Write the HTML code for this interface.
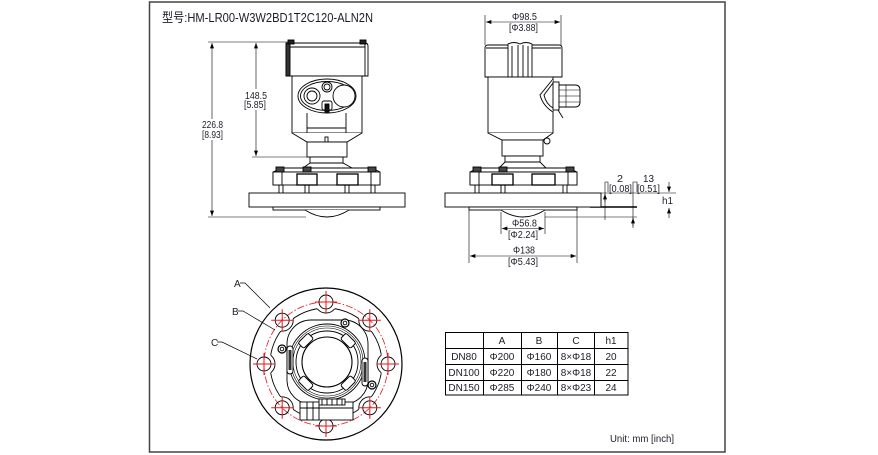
<!DOCTYPE html>
<html><head><meta charset="utf-8">
<style>
html,body{margin:0;padding:0;background:#fff;}
svg{display:block;}
text{font-family:"Liberation Sans","Noto Sans CJK SC",sans-serif;fill:#1c1c28;}
</style></head><body>
<svg width="878" height="455" viewBox="0 0 878 455" xmlns="http://www.w3.org/2000/svg">
<defs>
<marker id="ar" viewBox="0 0 8 6" refX="8" refY="3" markerWidth="6" markerHeight="4" orient="auto-start-reverse" markerUnits="userSpaceOnUse"><path d="M0,0 L8,3 L0,6 z" fill="#000"/></marker>
<mask id="scm">
<rect x="-100" y="-100" width="200" height="200" fill="#fff"/>
<circle cx="0" cy="-62" r="11" fill="#000"/><circle cx="43.8" cy="-43.8" r="11" fill="#000"/>
<circle cx="62" cy="0" r="11" fill="#000"/><circle cx="43.8" cy="43.8" r="11" fill="#000"/>
<circle cx="0" cy="62" r="11" fill="#000"/><circle cx="-43.8" cy="43.8" r="11" fill="#000"/>
<circle cx="-62" cy="0" r="11" fill="#000"/><circle cx="-43.8" cy="-43.8" r="11" fill="#000"/>
</mask>
<clipPath id="scc"><circle cx="0" cy="0" r="56"/></clipPath>
</defs>

<!-- frame -->
<rect x="149.5" y="2" width="575.5" height="450" fill="none" stroke="#444" stroke-width="1.5"/>

<!-- title -->
<text x="162" y="22" font-size="13" textLength="211" lengthAdjust="spacingAndGlyphs" fill="#333">型号:HM-LR00-W3W2BD1T2C120-ALN2N</text>

<!-- ================= FRONT VIEW ================= -->
<g stroke="#000" stroke-width="0.6" fill="none">
<line x1="208" y1="42" x2="290" y2="42"/>
<line x1="208" y1="217" x2="306" y2="217"/>
<line x1="252" y1="157" x2="307" y2="157"/>
<line x1="212" y1="43" x2="212" y2="216" marker-start="url(#ar)" marker-end="url(#ar)"/>
<line x1="256" y1="43" x2="256" y2="156" marker-start="url(#ar)" marker-end="url(#ar)"/>
</g>
<rect x="201" y="119" width="23" height="21" fill="#fff"/>
<rect x="244" y="89" width="24" height="21" fill="#fff"/>
<text x="202" y="128" font-size="10" textLength="21" lengthAdjust="spacingAndGlyphs">226.8</text>
<text x="202" y="138" font-size="10" textLength="21" lengthAdjust="spacingAndGlyphs">[8.93]</text>
<text x="245" y="99" font-size="10" textLength="22" lengthAdjust="spacingAndGlyphs">148.5</text>
<text x="244" y="108" font-size="10" textLength="22" lengthAdjust="spacingAndGlyphs">[5.85]</text>

<g fill="#fff" stroke="#000" stroke-width="0.9">
<path d="M286,76 V46 Q286,43 289,43 H365 Q368,43 368,46 V76 Z"/>
<rect x="286" y="43" width="4" height="33" fill="#333"/>
<line x1="290" y1="47" x2="365" y2="47"/>
<rect x="288" y="40" width="6" height="4" fill="#222"/>
<rect x="360" y="40" width="6" height="4" fill="#222"/>
<line x1="365" y1="43" x2="365" y2="76"/>
<rect x="292" y="76" width="70" height="57"/>
<path d="M292,133 L307,142 H347 L362,133"/>
<ellipse cx="327" cy="96" rx="29" ry="17"/>
<ellipse cx="327" cy="96" rx="26.5" ry="14.5"/>
<circle cx="312" cy="96" r="8"/><circle cx="312" cy="96" r="5"/>
<circle cx="327" cy="87" r="5"/><circle cx="327" cy="87" r="3"/>
<circle cx="344" cy="96" r="11"/>
<rect x="322" y="101" width="10" height="9" rx="2"/>
<rect x="325" y="104" width="4" height="8" fill="#111"/>
<path d="M307,113 V133 M346,113 V133" fill="none"/>
<line x1="307" y1="128" x2="346" y2="128"/>
<rect x="325" y="137" width="3" height="8"/>
<rect x="307" y="142" width="40" height="15"/>
<rect x="310" y="157" width="33" height="6"/>
<path d="M310,163 L303,168 H352 L343,163 Z"/>
<path d="M282,168 H372 L380,172 H273 Z"/>
<rect x="273" y="172" width="107" height="13"/>
<rect x="276" y="167" width="8" height="5" fill="#444"/>
<rect x="303" y="167" width="8" height="5" fill="#444"/>
<rect x="368" y="167" width="8" height="5" fill="#444"/>
<rect x="273" y="172" width="9" height="13"/>
<rect x="297" y="174" width="20" height="11" stroke-width="1.3"/>
<rect x="337" y="174" width="21" height="11" stroke-width="1.3"/>
<rect x="371" y="172" width="9" height="13"/>
<path d="M279,185 V193 M283,185 V193 M305,185 V193 M309,185 V193 M345,185 V193 M349,185 V193 M371,185 V193 M375,185 V193" fill="none"/>
<rect x="249" y="193" width="156" height="14"/>
<rect x="273" y="207" width="107" height="3"/>
<path d="M305,210 Q327,224 349,210" />
</g>

<!-- ================= SIDE VIEW ================= -->
<g stroke="#000" stroke-width="0.6" fill="none">
<line x1="485" y1="15" x2="485" y2="45"/>
<line x1="561" y1="15" x2="561" y2="45"/>
<line x1="486" y1="22" x2="560" y2="22" marker-start="url(#ar)" marker-end="url(#ar)"/>
<line x1="501" y1="212" x2="501" y2="234"/>
<line x1="545" y1="212" x2="545" y2="234"/>
<line x1="502" y1="228.5" x2="544" y2="228.5" marker-start="url(#ar)" marker-end="url(#ar)"/>
<line x1="469" y1="210" x2="469" y2="263"/>
<line x1="577" y1="210" x2="577" y2="263"/>
<line x1="470" y1="256" x2="576" y2="256" marker-start="url(#ar)" marker-end="url(#ar)"/>
<!-- right dims -->
<line x1="601" y1="193" x2="676" y2="193"/>
<line x1="545" y1="217" x2="637" y2="217"/>
<path d="M608,192 V182 H605 V220"/>
<path d="M637,192 V182 H633 V228"/>
<line x1="669" y1="182" x2="669" y2="192" marker-end="url(#ar)"/>
<line x1="669" y1="218" x2="669" y2="208" marker-end="url(#ar)"/>
<line x1="605" y1="202" x2="605" y2="194" marker-end="url(#ar)"/>
<line x1="633" y1="226" x2="633" y2="218" marker-end="url(#ar)"/>
</g>
<line x1="590" y1="207" x2="637" y2="207" stroke="#000" stroke-width="1.6"/>
<text x="512" y="20" font-size="10" textLength="25" lengthAdjust="spacingAndGlyphs">Φ98.5</text>
<text x="509" y="31" font-size="10" textLength="29" lengthAdjust="spacingAndGlyphs">[Φ3.88]</text>
<text x="512" y="226.5" font-size="10" textLength="25" lengthAdjust="spacingAndGlyphs">Φ56.8</text>
<text x="508" y="238" font-size="10" textLength="30" lengthAdjust="spacingAndGlyphs">[Φ2.24]</text>
<text x="513" y="253.5" font-size="10" textLength="22" lengthAdjust="spacingAndGlyphs">Φ138</text>
<text x="508" y="265" font-size="10" textLength="30" lengthAdjust="spacingAndGlyphs">[Φ5.43]</text>
<text x="617" y="182" font-size="10" textLength="6" lengthAdjust="spacingAndGlyphs">2</text>
<text x="609" y="192" font-size="10" textLength="23" lengthAdjust="spacingAndGlyphs">[0.08]</text>
<text x="643" y="182" font-size="10" textLength="11" lengthAdjust="spacingAndGlyphs">13</text>
<text x="637" y="192" font-size="10" textLength="23" lengthAdjust="spacingAndGlyphs">[0.51]</text>
<text x="662" y="204" font-size="10" textLength="11" lengthAdjust="spacingAndGlyphs">h1</text>

<g fill="#fff" stroke="#000" stroke-width="0.9">
<path d="M485,77 V48 Q485,45 488,45 H559 Q562,45 562,48 V77 Z"/>
<line x1="486" y1="48" x2="561" y2="48"/>
<path d="M508,77 V44 Q514,41 520,44 Q526,41 532,44 V77 Z"/>
<path d="M512,77 V46 M518,77 V45 M523,77 V45 M528,77 V46" fill="none"/>
<rect x="488" y="77" width="65" height="56"/>
<path d="M553,79 L540,95 Q543,106 553,112" />
<path d="M553,83 L544,95 Q546,104 553,108" fill="none"/>
<rect x="553" y="82" width="6" height="28"/>
<path d="M559,85 H575 Q580,85 580,90 V102 Q580,107 575,107 H559 Z"/>
<path d="M559,90 H580 M559,96 H580 M559,102 H580 M566,85 V107" fill="none" stroke-width="0.6"/>
<path d="M558,110 L563,118" fill="none"/>
<path d="M488,133 L502,140 H543 L553,133"/>
<circle cx="547" cy="141" r="3"/>
<rect x="502" y="140" width="41" height="16"/>
<rect x="505" y="156" width="35" height="6"/>
<path d="M505,162 L499,168 H546 L540,162 Z"/>
<path d="M478,168 H568 L577,172 H470 Z"/>
<rect x="470" y="172" width="107" height="13"/>
<rect x="473" y="167" width="8" height="5" fill="#444"/>
<rect x="499" y="167" width="8" height="5" fill="#444"/>
<rect x="566" y="167" width="8" height="5" fill="#444"/>
<rect x="470" y="172" width="9" height="13"/>
<rect x="492" y="174" width="21" height="11" stroke-width="1.3"/>
<rect x="532" y="174" width="23" height="11" stroke-width="1.3"/>
<rect x="568" y="172" width="9" height="13"/>
<path d="M475,185 V193 M479,185 V193 M501,185 V193 M505,185 V193 M563,185 V193 M567,185 V193" fill="none"/>
<rect x="445" y="193" width="156" height="14"/>
<rect x="469" y="207" width="108" height="3"/>
<path d="M501,210 Q523,224 545,210"/>
</g>

<!-- ================= BOTTOM VIEW ================= -->
<g transform="translate(326,364)">
<circle r="76" fill="none" stroke="#000" stroke-width="1.2"/>
<circle r="56" fill="none" stroke="#000" stroke-width="0.9" mask="url(#scm)"/>
<g clip-path="url(#scc)" fill="none" stroke="#000" stroke-width="0.9">
<circle cx="0" cy="-62" r="11"/><circle cx="43.8" cy="-43.8" r="11"/>
<circle cx="62" cy="0" r="11"/><circle cx="43.8" cy="43.8" r="11"/>
<circle cx="0" cy="62" r="11"/><circle cx="-43.8" cy="43.8" r="11"/>
<circle cx="-62" cy="0" r="11"/><circle cx="-43.8" cy="-43.8" r="11"/>
</g>
<circle r="62" fill="none" stroke="#e8141c" stroke-width="0.8" stroke-dasharray="7 2 1.5 2"/>
<g fill="none" stroke="#000" stroke-width="0.9">
<circle cx="0" cy="-62" r="7"/><circle cx="43.8" cy="-43.8" r="7"/>
<circle cx="62" cy="0" r="7"/><circle cx="43.8" cy="43.8" r="7"/>
<circle cx="0" cy="62" r="7"/><circle cx="-43.8" cy="43.8" r="7"/>
<circle cx="-62" cy="0" r="7"/><circle cx="-43.8" cy="-43.8" r="7"/>
</g>
<g stroke="#e8141c" stroke-width="1">
<path d="M-11,-62 H11 M0,-73 V-51"/>
<path d="M32.8,-43.8 H54.8 M43.8,-54.8 V-32.8"/>
<path d="M51,0 H73 M62,-11 V11"/>
<path d="M32.8,43.8 H54.8 M43.8,32.8 V54.8"/>
<path d="M-11,62 H11 M0,51 V73"/>
<path d="M-54.8,43.8 H-32.8 M-43.8,32.8 V54.8"/>
<path d="M-73,0 H-51 M-62,-11 V11"/>
<path d="M-54.8,-43.8 H-32.8 M-43.8,-54.8 V-32.8"/>
</g>
<g transform="translate(1,-2)" fill="none" stroke="#000" stroke-width="0.9">
<rect x="-40" y="-42" width="81" height="84" rx="24" fill="#fff"/>
<circle r="38"/>
<circle r="36" stroke-width="0.6"/>
<circle r="34" stroke-width="0.6"/>
<circle r="31"/>
<circle r="25" stroke-width="1.1"/>
<g stroke-width="1">
<rect x="-7" y="-4" width="14" height="8" rx="2" fill="#fff" transform="rotate(45) translate(0,-30)"/>
<rect x="-7" y="-4" width="14" height="8" rx="2" fill="#fff" transform="rotate(135) translate(0,-30)"/>
<rect x="-7" y="-4" width="14" height="8" rx="2" fill="#fff" transform="rotate(225) translate(0,-30)"/>
<rect x="-7" y="-4" width="14" height="8" rx="2" fill="#fff" transform="rotate(315) translate(0,-30)"/>
</g>
<rect x="-40" y="-16" width="6" height="28" rx="3" fill="#fff"/>
<rect x="-38.5" y="-12" width="3" height="20" fill="#333" stroke="none"/>
<rect x="35" y="-4" width="6" height="28" rx="3" fill="#fff"/>
<rect x="36.5" y="0" width="3" height="20" fill="#333" stroke="none"/>
<circle cx="18" cy="-39" r="4" fill="#fff" stroke-width="1.2"/><circle cx="18" cy="-39" r="1.8"/>
<circle cx="-45" cy="-13" r="4" fill="#fff" stroke-width="1.2"/><circle cx="-45" cy="-13" r="1.8"/>
<circle cx="45" cy="23" r="4" fill="#fff" stroke-width="1.2"/><circle cx="45" cy="23" r="1.8"/>
<rect x="-27" y="40" width="53" height="18" fill="#fff"/>
<rect x="-8" y="37" width="26" height="6" fill="#fff"/>
<path d="M-27,46 H26 M-20,40 V58 M-14,40 V58 M-8,43 V58 M-5,37 V43 M0,37 V43 M5,37 V43 M10,37 V43 M15,37 V43"/>
</g>
</g>

<!-- leaders -->
<g fill="none" stroke="#000" stroke-width="0.7">
<path d="M240,283 H245 L270,308"/>
<path d="M238,311 H243 L275,330"/>
<path d="M217,342 H222 L257,359"/>
</g>
<text x="234" y="287" font-size="10">A</text>
<text x="232" y="315" font-size="10">B</text>
<text x="211" y="346" font-size="10">C</text>

<!-- table -->
<g stroke="#000" stroke-width="1" fill="none">
<rect x="445.5" y="332.5" width="182.5" height="62.5"/>
<path d="M445.5,348.5 H628 M445.5,364.5 H628 M445.5,380.5 H628"/>
<path d="M483.5,332.5 V395 M521.5,332.5 V395 M557.5,332.5 V395 M594.5,332.5 V395"/>
</g>
<g font-size="10" text-anchor="middle">
<text x="502" y="344">A</text><text x="539" y="344">B</text><text x="576" y="344">C</text><text x="611" y="344">h1</text>
<text x="464" y="360">DN80</text><text x="502" y="360">Φ200</text><text x="539" y="360">Φ160</text><text x="576" y="360">8×Φ18</text><text x="611" y="360">20</text>
<text x="464" y="376">DN100</text><text x="502" y="376">Φ220</text><text x="539" y="376">Φ180</text><text x="576" y="376">8×Φ18</text><text x="611" y="376">22</text>
<text x="464" y="391">DN150</text><text x="502" y="391">Φ285</text><text x="539" y="391">Φ240</text><text x="576" y="391">8×Φ23</text><text x="611" y="391">24</text>
</g>

<text x="610" y="442" font-size="10" textLength="64" lengthAdjust="spacingAndGlyphs">Unit: mm [inch]</text>
</svg>
</body></html>
